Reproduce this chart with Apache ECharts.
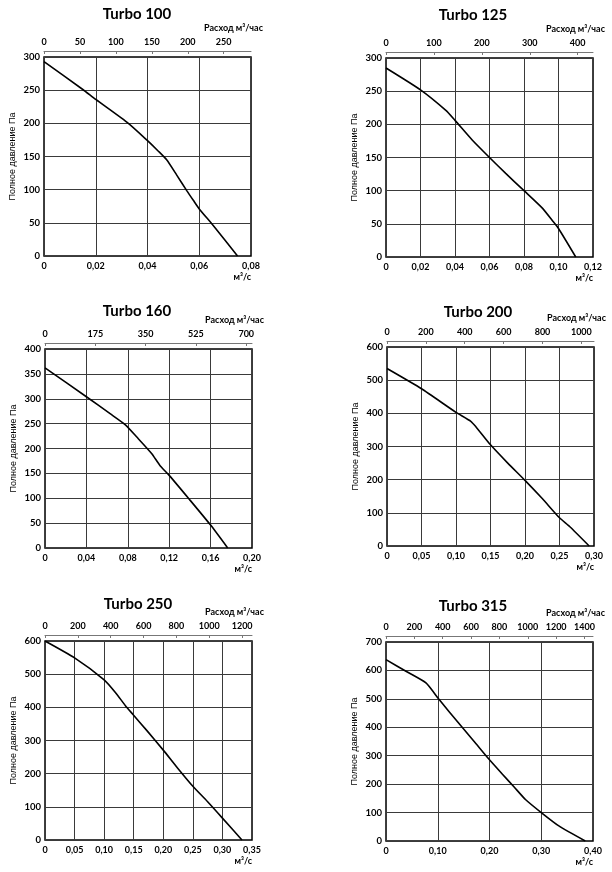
<!DOCTYPE html>
<html>
<head>
<meta charset="utf-8">
<script src="https://cdn.jsdelivr.net/npm/echarts@6/dist/echarts.min.js"></script>
<style>
html, body { margin: 0; padding: 0; background: #fff; }
#main { width: 612px; height: 872px; }
</style>
</head>
<body>
<div id="main"></div>
<script>
// названия
var titles = ['Turbo 100', 'Turbo 125', 'Turbo 160', 'Turbo 200', 'Turbo 250', 'Turbo 315'];

// расход, м3/с  /  полное давление, Па
var q100 = [0, 0.015, 0.02, 0.0326, 0.0397, 0.0442, 0.0474, 0.0513, 0.0551, 0.0577, 0.06, 0.0654, 0.0748];
var p100 = [293, 251, 236, 200, 175, 158, 145, 122, 99, 84, 71, 46, 0];

var q125 = [0, 0.02, 0.0347, 0.04, 0.0501, 0.06, 0.0694, 0.08, 0.0905, 0.0964, 0.10, 0.110];
var p125 = [285, 252, 221, 206, 176, 150, 126, 100, 74, 55, 43, 0];

var q160 = [0, 0.04, 0.0629, 0.0774, 0.0887, 0.103, 0.111, 0.12, 0.139, 0.16, 0.1765];
var p160 = [362, 304, 270, 248, 223, 190, 166, 146, 99, 46, 0];

var q200 = [0, 0.05, 0.10, 0.1215, 0.129, 0.15, 0.175, 0.20, 0.225, 0.25, 0.265, 0.293];
var p200 = [535, 474, 403, 376, 359, 305, 250, 198, 143, 85, 58, 0];

var q250 = [0, 0.05, 0.10, 0.119, 0.136, 0.148, 0.1727, 0.20, 0.2237, 0.25, 0.2746, 0.30, 0.333];
var p250 = [600, 549, 483, 445, 405, 380, 329, 271, 218, 162, 116, 66, 0];

var q315 = [0, 0.0386, 0.0772, 0.1016, 0.122, 0.148, 0.174, 0.197, 0.225, 0.2476, 0.27, 0.30, 0.334, 0.385];
var p315 = [638, 597, 556, 500, 455, 398, 342, 292, 235, 190, 145, 100, 53, 0];

var flows = [q100, q125, q160, q200, q250, q315];
var pressures = [p100, p125, p160, p200, p250, p315];

// шкалы
var qMax = [0.08, 0.12, 0.20, 0.30, 0.35, 0.40];
var qStep = [0.02, 0.02, 0.04, 0.05, 0.05, 0.10];
var pMax = [300, 300, 400, 600, 600, 700];
var pStep = [50, 50, 50, 100, 100, 100];
var hMax = [288, 432, 720, 1065, 1260, 1460];   // верхняя шкала, м3/час
var hStep = [50, 100, 175, 200, 200, 200];

(function () {
    var dom = document.getElementById('main');
    var myChart = echarts.init(dom, null, { renderer: 'canvas' });

    var font = 'Lato, "Open Sans", sans-serif';
    // положение полей графиков
    var pos = [[44, 57], [386, 58], [45, 349], [387, 347], [45, 641], [386, 642]];
    var titlePos = [[137, 14], [473, 15], [137, 311], [478, 312], [138, 604], [473, 606]];
    var W = 207, H = 199;

    var grid = [], xAxis = [], yAxis = [], series = [], graphic = [];

    for (var i = 0; i < 6; i++) {
        var gx = pos[i][0], gy = pos[i][1];
        grid.push({
            left: gx, top: gy, width: W, height: H,
            show: true, borderColor: '#000', borderWidth: 1.5, backgroundColor: 'transparent'
        });

        // нижняя шкала м3/с
        xAxis.push({
            type: 'value', gridIndex: i, position: 'bottom',
            min: 0, max: qMax[i], interval: qStep[i],
            axisLine: { show: false }, axisTick: { show: false },
            splitLine: { show: true, lineStyle: { color: '#3a3a3a', width: 1 } },
            axisLabel: {
                margin: 6, color: '#000', fontFamily: font, fontWeight: 'bold', fontSize: 9,
                formatter: function (v) { return v === 0 ? '0' : v.toFixed(2).replace('.', ','); }
            }
        });
        // верхняя шкала м3/час
        xAxis.push({
            type: 'value', gridIndex: i, position: 'top', offset: 6,
            min: 0, max: hMax[i], interval: hStep[i],
            axisLine: { show: true, onZero: false, lineStyle: { color: '#777', width: 1 } },
            axisTick: { show: true, inside: true, length: 3, lineStyle: { color: '#777' } },
            splitLine: { show: false },
            axisLabel: {
                margin: 4, color: '#000', fontFamily: font, fontWeight: 'bold', fontSize: 9,
                showMaxLabel: false,
                formatter: function (v) { return String(v); }
            }
        });

        yAxis.push({
            type: 'value', gridIndex: i,
            min: 0, max: pMax[i], interval: pStep[i],
            name: 'Полное давление Па', nameLocation: 'middle', nameRotate: 90, nameGap: 27,
            nameTextStyle: { color: '#000', fontFamily: '"Liberation Sans", Arial, sans-serif', fontSize: 9 },
            axisLine: { show: false }, axisTick: { show: false },
            splitLine: { show: true, lineStyle: { color: '#3a3a3a', width: 1 } },
            axisLabel: { margin: 4, color: '#000', fontFamily: font, fontWeight: 'bold', fontSize: 9.5 }
        });

        series.push({
            type: 'line', xAxisIndex: i * 2, yAxisIndex: i,
            showSymbol: false, smooth: 0.2,
            lineStyle: { color: '#000', width: 1.6 },
            data: flows[i].map(function (q, k) { return [q, this[k]]; }, pressures[i])
        });

        graphic.push({
            type: 'text', x: titlePos[i][0], y: titlePos[i][1],
            style: { text: titles[i], fill: '#000', font: 'bold 15px ' + font, textAlign: 'center', textVerticalAlign: 'middle' }
        });
        graphic.push({
            type: 'text', x: gx + 219, y: gy - 29,
            style: { text: 'Расход м³/час', fill: '#000', font: 'bold 9px ' + font, textAlign: 'right', textVerticalAlign: 'middle' }
        });
        graphic.push({
            type: 'text', x: gx + 207, y: gy + 220,
            style: { text: 'м³/с', fill: '#000', font: 'bold 9px ' + font, textAlign: 'right', textVerticalAlign: 'middle' }
        });
    }

    var option = {
        backgroundColor: '#fff',
        animation: false,
        grid: grid,
        xAxis: xAxis,
        yAxis: yAxis,
        series: series,
        graphic: graphic
    };
    myChart.setOption(option, true);
})();
</script>
</body>
</html>
